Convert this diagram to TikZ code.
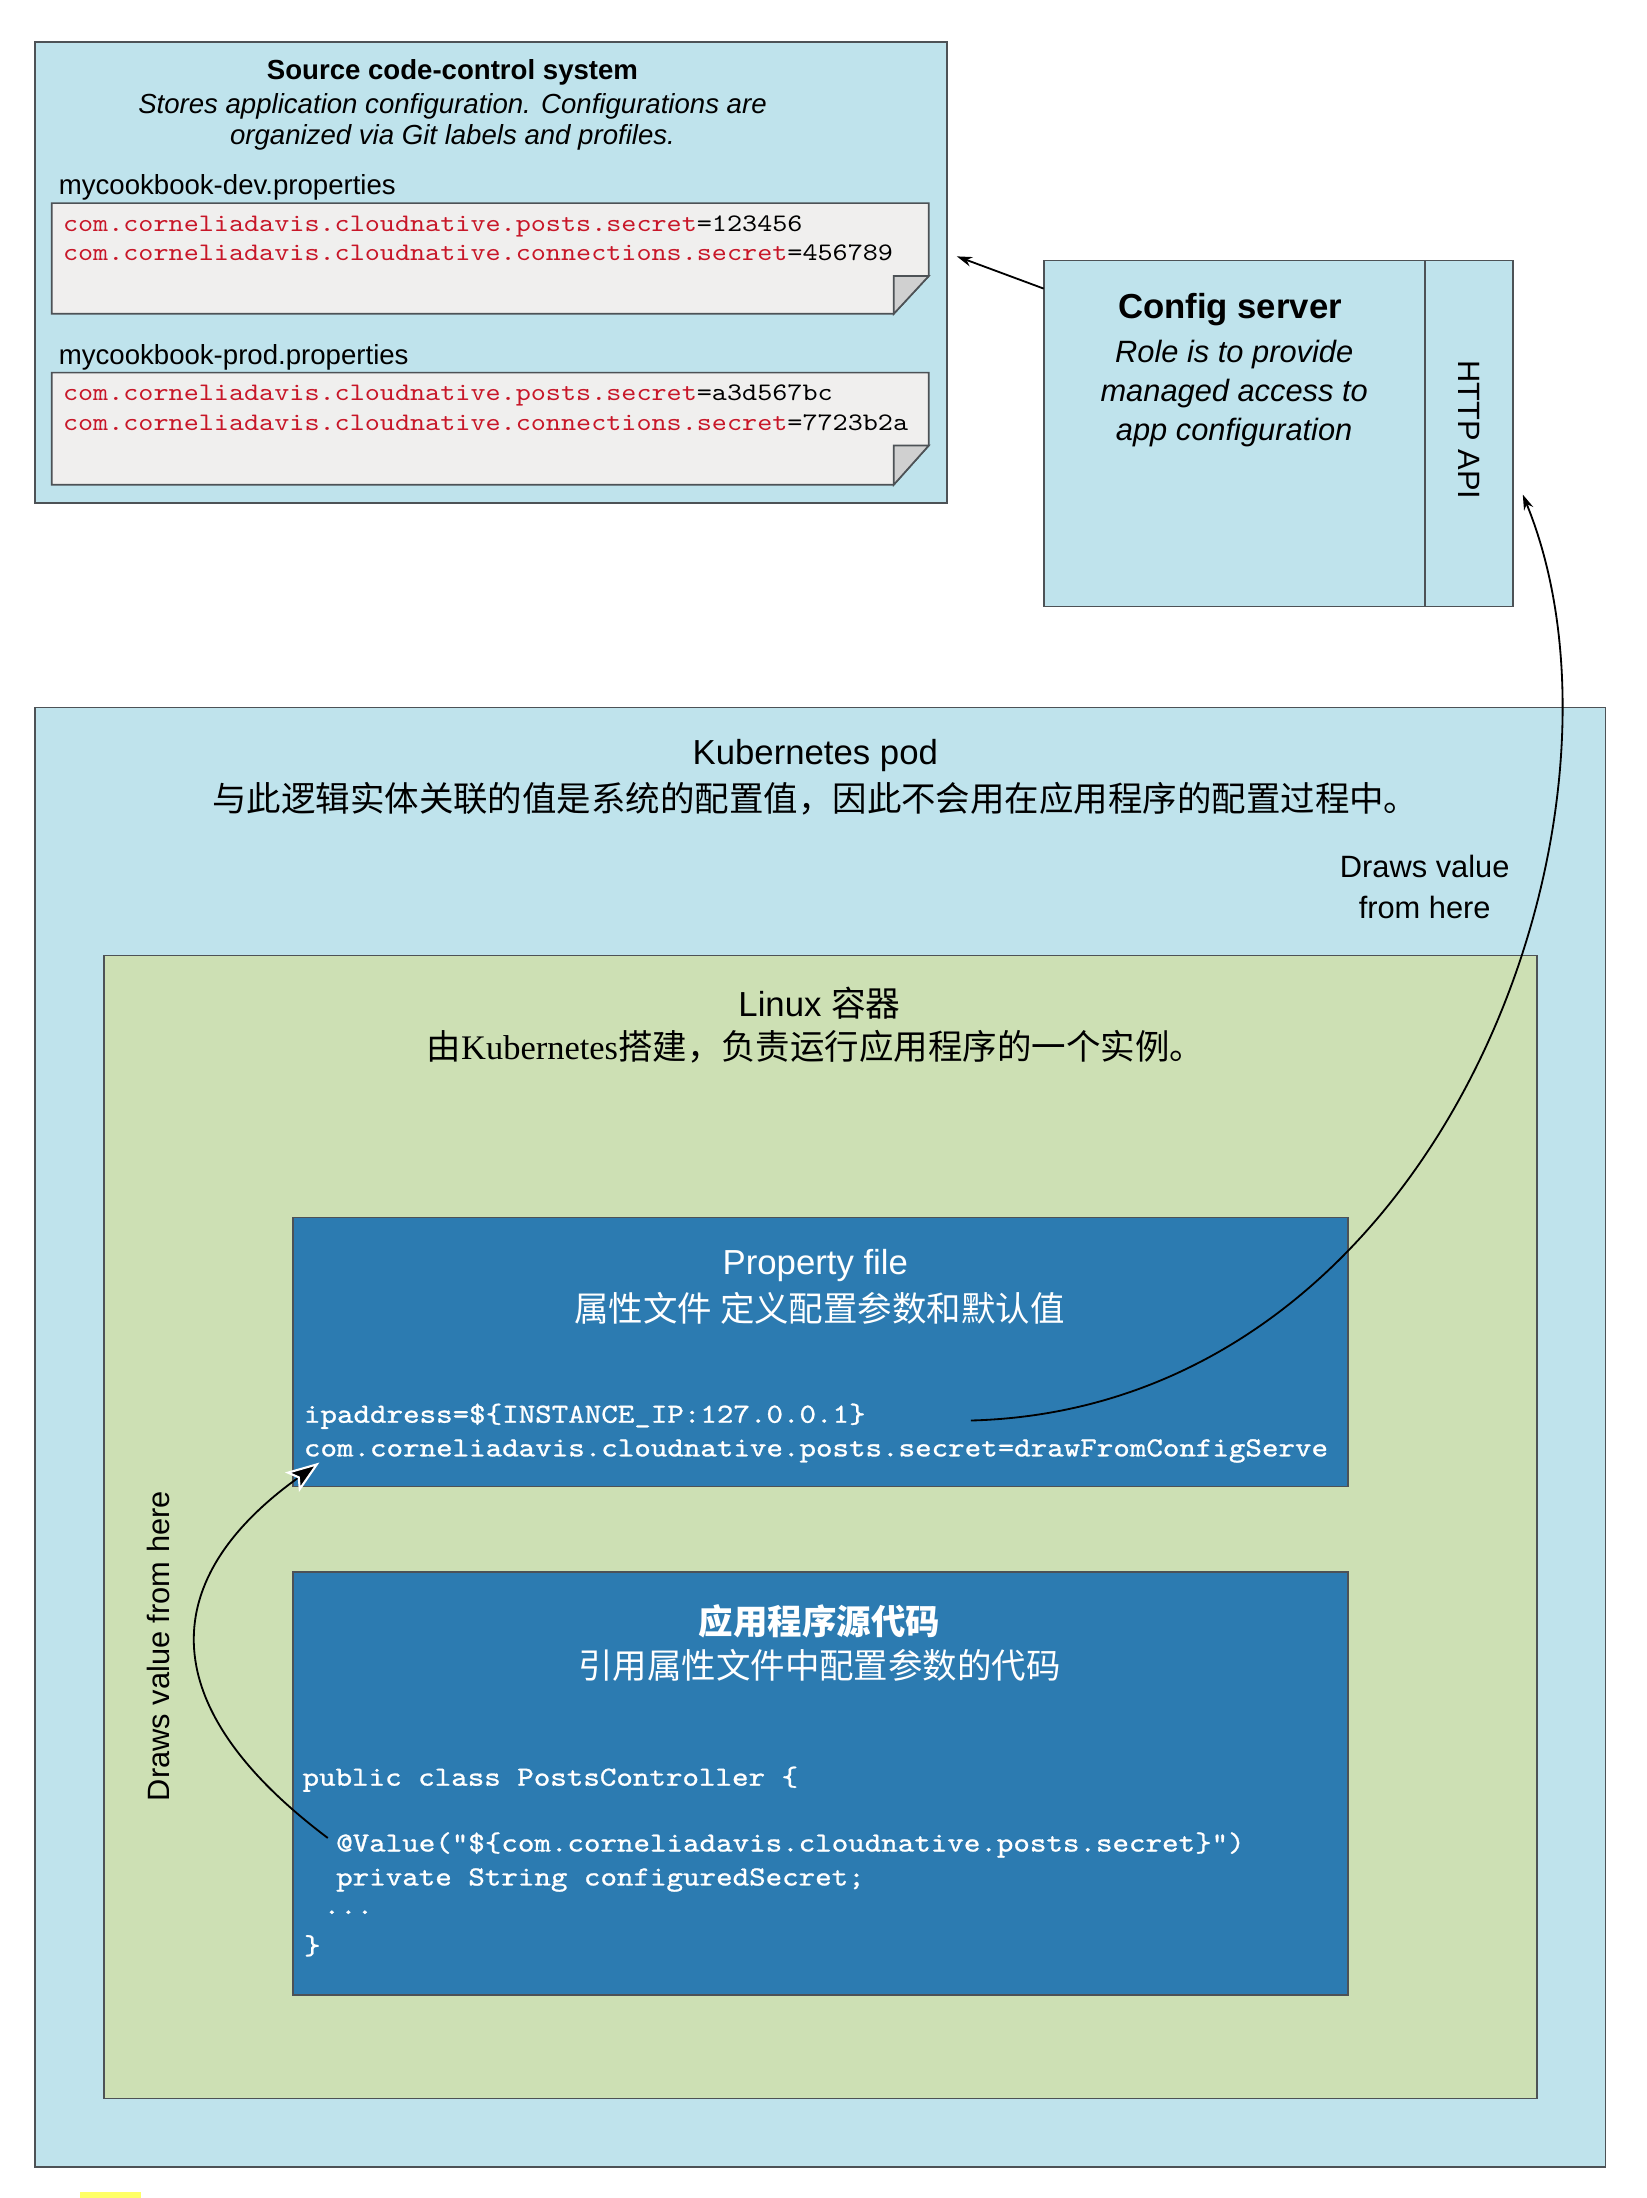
\documentclass[tikz,border=0pt]{standalone}
\usepackage{fontspec}
\setmainfont{Liberation Sans}
\newfontfamily\cjk{Noto Sans CJK SC}
\newfontfamily\kbserif{Liberation Serif}
\newfontfamily\codefont{lmmono10-regular.otf}[FakeStretch=1.14]
\newfontfamily\wcodefont{lmmono10-regular.otf}[FakeStretch=1.14, FakeBold=1]
\usetikzlibrary{arrows.meta}
\definecolor{podblue}{RGB}{191,227,236}
\definecolor{boxgreen}{RGB}{205,224,180}
\definecolor{fileblue}{RGB}{44,123,177}
\definecolor{edgegray}{RGB}{77,82,86}
\definecolor{docgray}{RGB}{240,239,238}
\definecolor{foldgray}{RGB}{208,208,208}
\definecolor{keyred}{RGB}{200,22,40}
\definecolor{markyellow}{RGB}{255,255,102}
\newcommand{\fsz}[2]{\fontsize{#1}{#2}\selectfont}
\tikzset{
    every node/.style={inner sep=0pt, outer sep=0pt, text=black}
}
\tikzset{
    box/.style={draw=edgegray, line width=1.2pt, rectangle},
    doc/.style={draw=edgegray, line width=1.2pt, fill=docgray},
    fold/.style={draw=edgegray, line width=1.2pt, fill=foldgray},
    cn/.style={font=\cjk\fsz{24.6}{28}},
    code/.style={font=\codefont\fsz{18}{21}, anchor=west, align=left},
    wcode/.style={font=\wcodefont\fsz{19.7}{24}, anchor=west, align=left, text=white}
}
\tikzset{
    arr/.style={-{Stealth[length=11pt,width=7pt]}, line width=1.3pt, black},
    bigarr/.style={-{Stealth[length=24pt,width=17pt,inset=5pt,fill=black,color=white,line width=1.5pt]}, line width=1.3pt, black}
}

\begin{document}
\begin{tikzpicture}[x=1pt, y=-1pt]
  \useasboundingbox[fill=white] (0,0) rectangle (1175,1569);

  % source code-control system
  \node (scc) [box, fill=podblue, minimum width=651pt, minimum height=329pt] at (350.5,194.5) {};
  \node (scctitle) [font=\bfseries\fsz{19.7}{22}] at (323,52) {Source code-control system};
  \node (sccnote) [font=\itshape\fsz{19.7}{22}, align=center] at (323,87)
    {Stores application configuration. Configurations are\\organized via Git labels and profiles.};

  \node (devname) [font=\fsz{19.7}{22}, anchor=west] at (42,134) {mycookbook-dev.properties};
  \draw[doc] (37,145) -- (663,145) -- (663,197) -- (638,224) -- (37,224) -- cycle;
  \draw[fold] (638,197) -- (663,197) -- (638,224) -- cycle;
  \node (devcode) [code] at (45,170)
    {\textcolor{keyred}{com.corneliadavis.cloudnative.posts.secret}=123456\\
     \textcolor{keyred}{com.corneliadavis.cloudnative.connections.secret}=456789};

  \node (prodname) [font=\fsz{19.7}{22}, anchor=west] at (42,255) {mycookbook-prod.properties};
  \draw[doc] (37,266) -- (663,266) -- (663,318) -- (638,346) -- (37,346) -- cycle;
  \draw[fold] (638,318) -- (663,318) -- (638,346) -- cycle;
  \node (prodcode) [code] at (45,291)
    {\textcolor{keyred}{com.corneliadavis.cloudnative.posts.secret}=a3d567bc\\
     \textcolor{keyred}{com.corneliadavis.cloudnative.connections.secret}=7723b2a};

  % config server
  \node (cfg) [box, fill=podblue, minimum width=272pt, minimum height=247pt] at (881,309.5) {};
  \node (api) [box, fill=podblue, minimum width=63pt, minimum height=247pt] at (1048.5,309.5) {};
  \node (cfgtitle) [font=\bfseries\fsz{24.8}{28}] at (878,221) {Config server};
  \node (cfgnote) [font=\itshape\fsz{22}{28}, align=center] at (881,281)
    {Role is to provide\\managed access to\\app configuration};
  \node (apilabel) [font=\fsz{22}{26}, rotate=-90] at (1049,307) {HTTP API};

  % kubernetes pod
  \node (pod) [box, fill=podblue, minimum width=1121pt, minimum height=1042pt] at (585.5,1026) {};
  \node (podtitle) [font=\fsz{24.8}{28}] at (582,539) {Kubernetes pod};
  \node (podnote) [cn] at (582,570) {与此逻辑实体关联的值是系统的配置值，因此不会用在应用程序的配置过程中。};
  \node (drawsright) [font=\fsz{22}{29}, align=center] at (1017,633) {Draws value\\from here};

  % linux container
  \node (linux) [box, fill=boxgreen, minimum width=1023pt, minimum height=816pt] at (585.5,1090) {};
  \node (linuxtitle) [font=\fsz{24.8}{28}] at (585,716) {Linux {\cjk 容器}};
  \node (linuxnote) [cn] at (582,747) {由{\kbserif Kubernetes}搭建，负责运行应用程序的一个实例。};

  % property file
  \node (prop) [box, fill=fileblue, minimum width=753pt, minimum height=192pt] at (585.5,965) {};
  \node (proptitle) [font=\fsz{24.8}{28}, text=white] at (582,903) {Property file};
  \node (propnote) [cn, text=white] at (585,934) {属性文件 定义配置参数和默认值};
  \node (propcode) [wcode] at (217,1023)
    {ipaddress=\$\{INSTANCE\_IP:127.0.0.1\}\\
     com.corneliadavis.cloudnative.posts.secret=drawFromConfigServe};

  % application source
  \node (src) [box, fill=fileblue, minimum width=753pt, minimum height=302pt] at (585.5,1273) {};
  \node (srctitle) [font=\cjk\bfseries\fsz{24.6}{28}, text=white] at (585,1157) {应用程序源代码};
  \node (srcnote) [cn, text=white] at (585,1189) {引用属性文件中配置参数的代码};
  \node (srcl1) [wcode] at (216,1270) {public class PostsController \{};
  \node (srcl2) [wcode] at (240,1317) {@Value("\$\{com.corneliadavis.cloudnative.posts.secret\}")};
  \node (srcl3) [wcode] at (240,1342) {private String configuredSecret;};
  \node (srcl4) [wcode] at (231,1365) {...};
  \node (srcl5) [wcode] at (217,1389) {\}};

  \node (drawsleft) [font=\fsz{22}{26}, rotate=90] at (113,1175) {Draws value from here};

  % connectors
  \coordinate (cfgout) at (745,206);
  \coordinate (sccin) at (683,183);
  \draw[arr] (cfgout) -- (sccin);
  \coordinate (ipend) at (693,1014);
  \coordinate (apiin) at (1087,353);
  \draw[arr] (ipend) .. controls (1030,1005) and (1180,580) .. (apiin);
  \coordinate (valstart) at (234,1312);
  \coordinate (propin) at (228,1044);
  \draw[bigarr] (valstart) .. controls (105,1215) and (115,1125) .. (propin);

  \fill[markyellow] (57,1565) rectangle (101,1569);
\end{tikzpicture}
\end{document}
